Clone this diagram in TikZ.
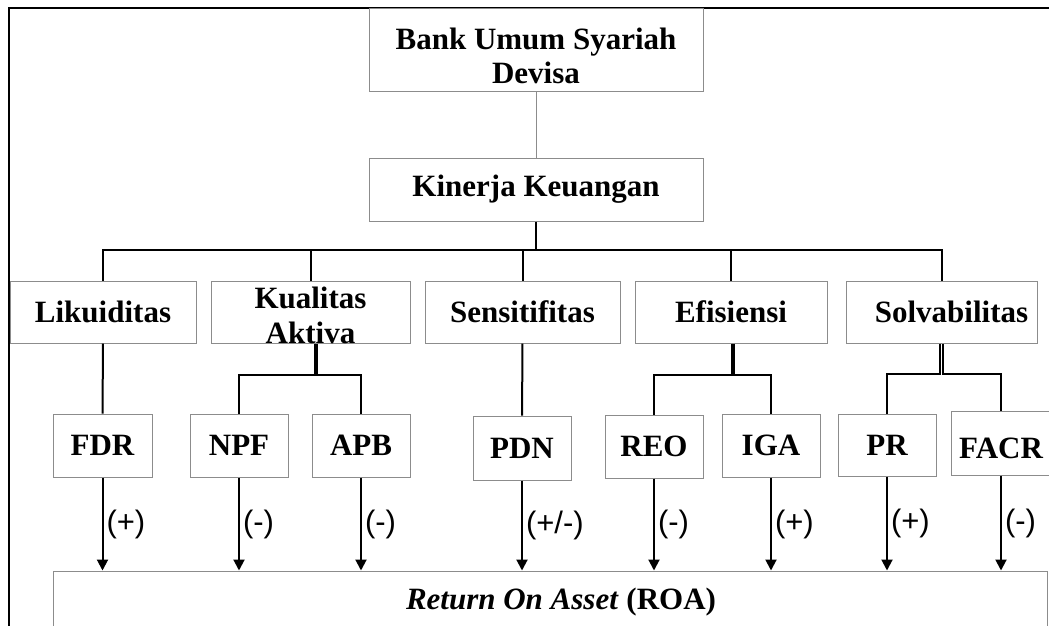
\documentclass[tikz,border=0pt]{standalone}
\usepackage{fontspec}
\setmainfont{Liberation Serif}
\newfontfamily\signfont{Liberation Sans}
\usetikzlibrary{arrows.meta,positioning}
\definecolor{boxgray}{RGB}{140,140,140}

\begin{document}
\begin{tikzpicture}[x=1pt,y=-1pt,
  box/.style={draw=boxgray, line width=1pt, fill=white, inner sep=0pt,
    font=\fontsize{31}{33}\selectfont\bfseries},
  conn/.style={line width=2pt},
  flow/.style={conn, -{Triangle[length=11pt,width=11pt]}},
  sign/.style={font=\signfont\fontsize{31}{33}\selectfont, anchor=west, inner sep=3pt}]
\useasboundingbox (0,0) rectangle (1049,626);
\clip (0,0) rectangle (1049,626);
\fill[white] (0,0) rectangle (1049,626);

% frame
\draw[line width=1.4pt] (9,640) -- (9,8) -- (1060,8);

% top
\node[box, minimum width=334, minimum height=82, align=center, text height=74pt, text depth=8pt] (bank) at (536,50) {Bank Umum Syariah\\Devisa};
\node[box, minimum width=334, minimum height=63] (kin) at (536,189.5) {Kinerja Keuangan};

% aspects
\node[box, minimum width=186, minimum height=62] (lik) at (103,312) {Likuiditas};
\node[box, minimum width=199, minimum height=62, align=center, text height=62pt, text depth=0pt] (kual) at (310.5,312) {Kualitas\\[2pt]Aktiva};
\node[box, minimum width=195, minimum height=62] (sens) at (522.5,312) {Sensitifitas};
\node[box, minimum width=192, minimum height=62] (efi) at (731,312) {Efisiensi};
\node[box, minimum width=191, minimum height=62] (solv) at (941.5,312) {\hspace*{20pt}Solvabilitas};

% ratios
\node[box, minimum width=99, minimum height=63] (fdr) at (102.5,445.5) {FDR};
\node[box, minimum width=98, minimum height=63] (npf) at (239,445.5) {NPF};
\node[box, minimum width=98, minimum height=63] (apb) at (361,445.5) {APB};
\node[box, minimum width=98, minimum height=64] (pdn) at (522,448) {PDN};
\node[box, minimum width=98, minimum height=63] (reo) at (654,446.5) {REO};
\node[box, minimum width=98, minimum height=63] (iga) at (771,445.5) {IGA};
\node[box, minimum width=98, minimum height=62] (pr) at (887,445) {PR};
\node[box, minimum width=100, minimum height=64, text height=31pt, text depth=0pt] (facr) at (1001,443) {FACR};

% result
\node[box, minimum width=994, minimum height=62] (roa) at (550,602) {\hspace*{22pt}\textit{Return On Asset} (ROA)};

% links
\draw[boxgray, line width=1pt] (bank) -- (kin);
\coordinate (bus) at (536,250);
\draw[conn] (kin) -- (bus);
\draw[conn] (lik.north) |- (bus) -| (solv.north);
\foreach \n in {kual,sens,efi}
  \draw[conn] (\n.north) -- (\n.north |- bus);

\draw[conn] (lik) -- (fdr);
\draw[conn] (sens) -- (pdn);
\draw[conn] ([xshift=4pt]kual.south) -- ++(0,31) -| (npf.north);
\draw[conn] ([xshift=6pt]kual.south) -- ++(0,31) -| (apb.north);
\draw[conn] ([xshift=1pt]efi.south) -- ++(0,31) -| (reo.north);
\draw[conn] ([xshift=3pt]efi.south) -- ++(0,31) -| (iga.north);
\draw[conn] ([xshift=-1.7pt]solv.south) -- ++(0,30) -| (pr.north);
\draw[conn] ([xshift=1.7pt]solv.south) -- ++(0,30) -| (facr.north);

\foreach \n/\sgn in {fdr/{(+)}, npf/{(-)}, apb/{(-)}, pdn/{(+/-)}, reo/{(-)}, iga/{(+)}, pr/{(+)}, facr/{(-)}}
  \draw[flow] (\n) -- (\n |- roa.north) node[sign, midway] {\sgn};
\end{tikzpicture}
\end{document}
